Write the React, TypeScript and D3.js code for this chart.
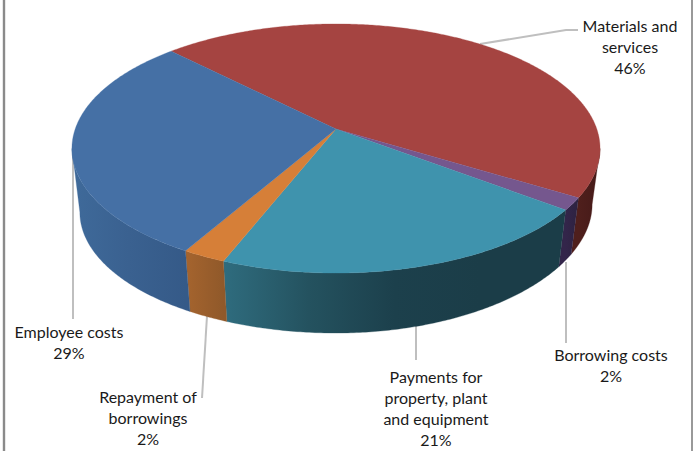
import React from 'react';
import * as d3 from 'd3';

const width = 693;
const height = 451;

// clockwise from the first slice
const categoryLines = [
  ['Materials and', 'services'],
  ['Borrowing costs'],
  ['Payments for', 'property, plant', 'and equipment'],
  ['Repayment of', 'borrowings'],
  ['Employee costs']
];
const values = [46.1, 1.6, 20.7, 2.3, 29.3];
const topColors = ['#a54441', '#75578e', '#3f93ad', '#d67f38', '#4570a5'];
const wallStops = [
  ['#4f1f1c', '#451a18'],
  ['#33254a', '#2d2240'],
  ['#2f6c7e', '#24525f', '#1c404c', '#1b3d48', '#1b3d48'],
  ['#a5642e', '#90592a'],
  ['#3f6a9a', '#3a6190', '#355a88']
];

// layout of the labels: centre x, first baseline, leader line
const labelLayout = [
  { x: 630, y: 32, leader: [[480, 44], [566, 30], [578, 30]] },
  { x: 611, y: 361, leader: [[566, 262], [566, 343]] },
  { x: 436, y: 383, leader: [[416, 326], [416, 360]] },
  { x: 148, y: 403, leader: [[207, 316], [202, 398]] },
  { x: 69, y: 338, leader: [[73, 144], [73, 319]] }
];
const lineHeight = 21;

// perspective model of the disc
const apex = { x: 336, y: 129 };
const rimA = 260.8;
const rimB = 121.5;
const persp = 0.1566;
const depth = 64.3;
const bottomScale = 0.97;
const rightLift = 8; // wall looks a bit shorter on the right
const startDeg = 315.4;
const wallFrom = (99 * Math.PI) / 180;
const wallTo = (261 * Math.PI) / 180;

const project = (angle: number, bottom = false) => {
  const u = Math.sin(angle);
  const v = -Math.cos(angle);
  const w = 1 - persp * v;
  const s = bottom ? bottomScale : 1;
  const lift = bottom && u > 0 ? rightLift * u * u : 0;
  return [
    apex.x + (s * rimA * u) / w,
    apex.y + (bottom ? depth - lift : 0) + (s * rimB * v) / w
  ] as [number, number];
};

const sampleArc = (a0: number, a1: number) => {
  const n = Math.max(2, Math.ceil(Math.abs(a1 - a0) / 0.01));
  const t = d3.scaleLinear().domain([0, n]).range([a0, a1]);
  return d3.range(n + 1).map(i => t(i));
};

const line = d3.line();

export default function App() {
  const start = (startDeg * Math.PI) / 180;
  const arcs = d3.pie<number>()
    .sort(null)
    .startAngle(start)
    .endAngle(start + 2 * Math.PI)(values);

  // slice angles folded so the front of the disc can be tested
  const walls = arcs.map((a, i) => {
    const a0 = Math.max(a.startAngle - 2 * Math.PI, wallFrom);
    const a1 = Math.min(a.endAngle - 2 * Math.PI, wallTo);
    if (a1 <= a0) return null;
    const top = sampleArc(a0, a1).map(t => project(t));
    const bot = sampleArc(a0, a1).map(t => project(t, true)).reverse();
    const xs = [top[0][0], top[top.length - 1][0]];
    return { i, d: line([...top, ...bot]) + 'Z', x0: Math.min(...xs), x1: Math.max(...xs) };
  });

  return (
    <div style={{ position: 'absolute', left: 0, top: 0 }}>
      <svg width={width} height={height} style={{ display: 'block' }} fontFamily="Lato, 'Open Sans', sans-serif">
        <defs>
          {walls.map(w => w && (
            <linearGradient key={w.i} id={`wall-${w.i}`} gradientUnits="userSpaceOnUse" x1={w.x0} x2={w.x1} y1={0} y2={0}>
              {/* stops run left to right on screen */}
              {wallStops[w.i].map((c, j, all) => (
                <stop key={j} offset={j / Math.max(1, all.length - 1)} stopColor={c} />
              ))}
            </linearGradient>
          ))}
        </defs>

        <rect width={width} height={height} fill="#fff" />
        <line x1={4} x2={4} y1={0} y2={height} stroke="#8a8a8a" strokeWidth={2.4} />
        <line x1={692} x2={692} y1={0} y2={height} stroke="#999" strokeWidth={2} />

        {labelLayout.map((l, i) => (
          <path key={i} d={line(l.leader as [number, number][]) || ''} fill="none" stroke="#bfbfbf" strokeWidth={2} />
        ))}

        {walls.map(w => w && (
          <path key={w.i} d={w.d} fill={`url(#wall-${w.i})`} stroke={`url(#wall-${w.i})`} strokeWidth={0.3} />
        ))}

        {arcs.map((a, i) => {
          const rim = sampleArc(a.startAngle, a.endAngle).map(t => project(t));
          return (
            <path key={i} d={line([[apex.x, apex.y], ...rim]) + 'Z'} fill={topColors[i]} stroke={topColors[i]} strokeWidth={0.3} />
          );
        })}

        {labelLayout.map((l, i) => {
          const rows = [...categoryLines[i], `${Math.round(values[i])}%`];
          return (
            <text key={i} textAnchor="middle" fontSize={16} fill="#1a1a1a">
              {rows.map((r, j) => (
                <tspan key={j} x={l.x} y={l.y + j * lineHeight}>{r}</tspan>
              ))}
            </text>
          );
        })}
      </svg>
    </div>
  );
}
